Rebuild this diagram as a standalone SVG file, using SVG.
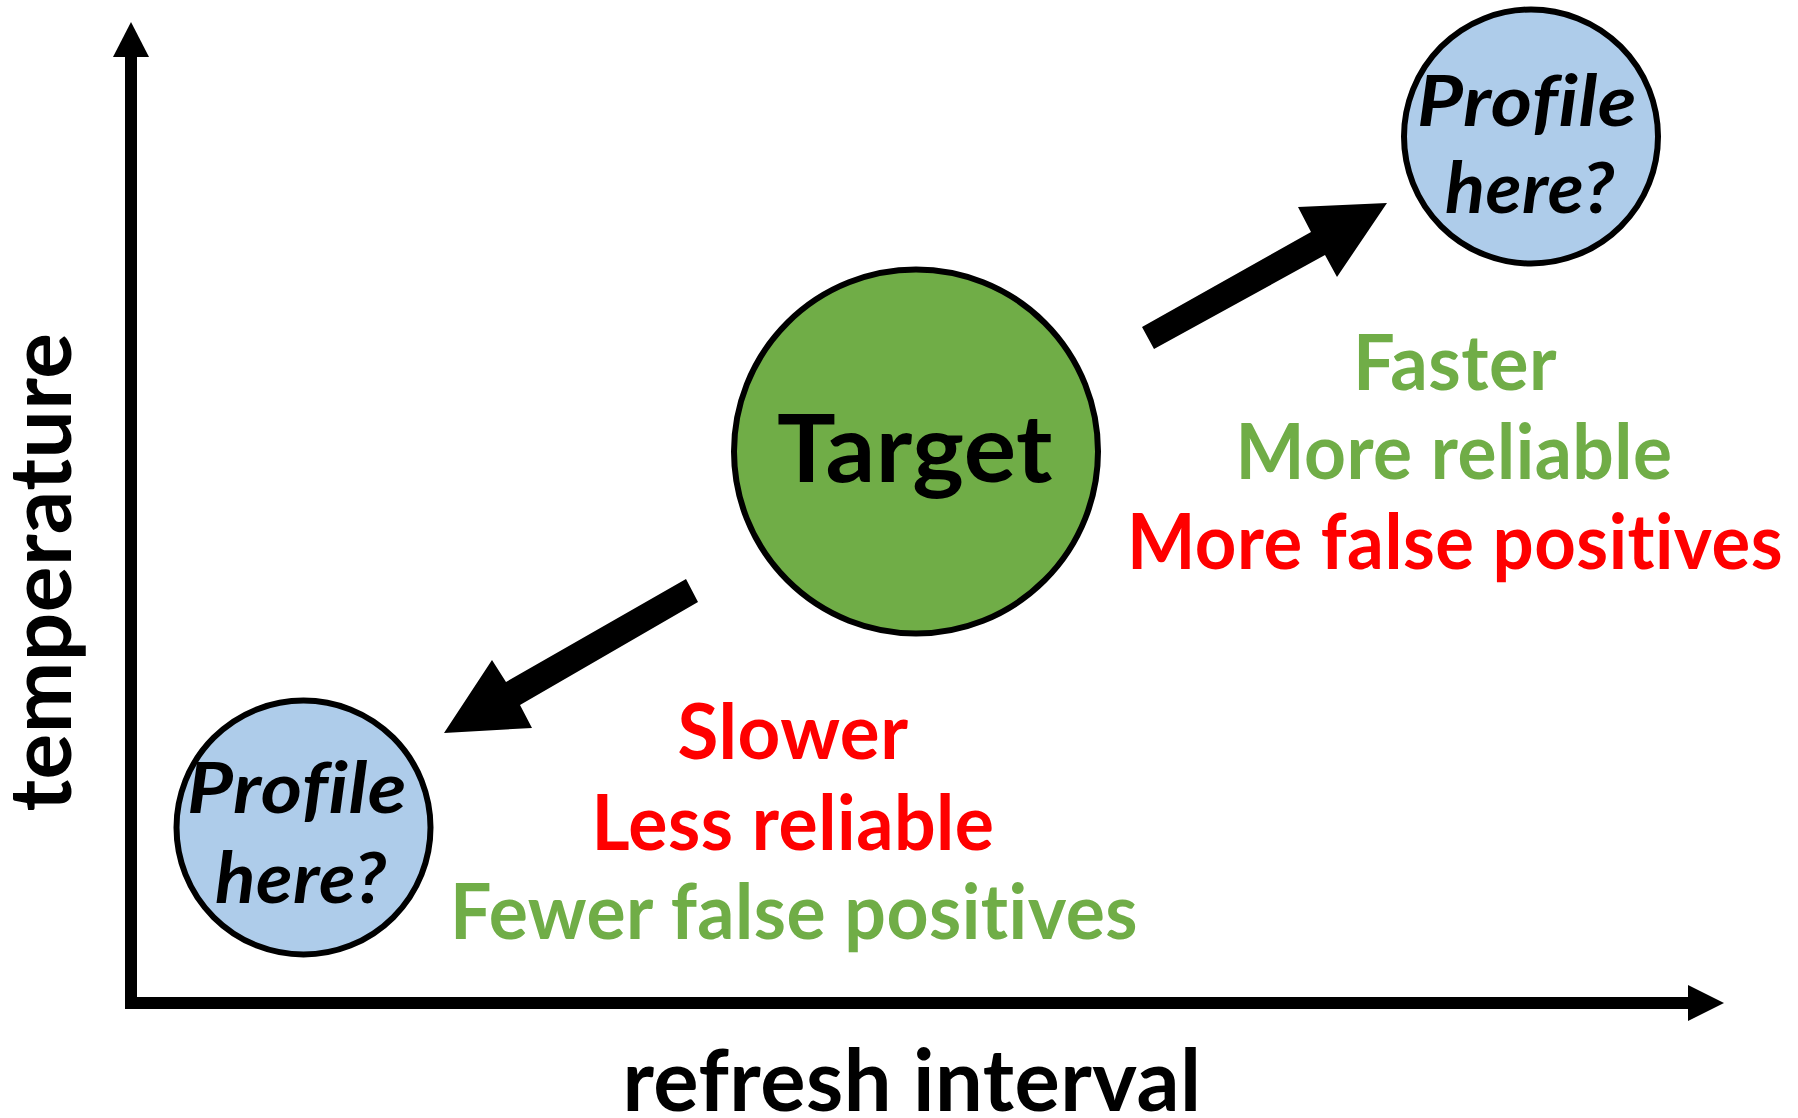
<svg xmlns="http://www.w3.org/2000/svg" width="1798" height="1118" viewBox="0 0 1798 1118">
  <style>
    .bg { fill: #ffffff; }
    .axis { fill: none; stroke: #000000; stroke-width: 12; stroke-linejoin: miter; stroke-linecap: butt; }
    .head { fill: #000000; }
    .arrow { fill: #000000; }
    .target { fill: #70AD47; stroke: #000000; stroke-width: 6; }
    .option { fill: #AECCEA; stroke: #000000; stroke-width: 6; }
    text { font-family: Lato, "Open Sans", "Liberation Sans", sans-serif; font-weight: bold; text-anchor: middle; font-variant-ligatures: none; font-feature-settings: "liga" 0, "clig" 0, "dlig" 0; letter-spacing: 0.5px; }
    .label { fill: #000000; }
    .ital { font-style: italic; fill: #000000; font-size: 71px; }
    .good { fill: #70AD47; font-size: 76px; }
    .bad { fill: #FF0000; font-size: 76px; }
  </style>
  <rect class="bg" x="0" y="0" width="1798" height="1118"/>

  <!-- axes and direction arrows -->
  <g id="connectors">
    <path class="axis" d="M131,57 V1003 H1688"/>
    <polygon class="head" points="131,22 113,57 149,57"/>
    <polygon class="head" points="1724,1003 1688,985 1688,1021"/>
    <polygon id="arrow-up" class="arrow" points="1142,327 1154,349 1325,255 1337,277 1387,203 1298,207 1311,232"/>
    <polygon id="arrow-down" class="arrow" points="686,579 698,602 520,705 532,728 444,733 492,660 506,682"/>
  </g>

  <!-- axis titles -->
  <g id="axis-y-label">
    <text class="label" font-size="86" textLength="479" lengthAdjust="spacingAndGlyphs" transform="translate(71,572) rotate(-90)">temperature</text>
  </g>
  <g id="axis-x-label">
    <text class="label" x="912" y="1111" font-size="86" textLength="579" lengthAdjust="spacingAndGlyphs">refresh interval</text>
  </g>

  <!-- centre node -->
  <g id="node-target">
    <circle class="target" cx="916" cy="451.5" r="182"/>
    <text class="label" x="915" y="482" font-size="93" textLength="276" lengthAdjust="spacingAndGlyphs">Target</text>
  </g>

  <!-- candidate points -->
  <g id="node-profile-high">
    <circle class="option" cx="1531" cy="136.5" r="127"/>
    <text class="ital" x="1527" y="126" textLength="220" lengthAdjust="spacingAndGlyphs">Profile</text>
    <text class="ital" x="1530" y="213" textLength="170" lengthAdjust="spacingAndGlyphs">here?</text>
  </g>
  <g id="node-profile-low">
    <circle class="option" cx="303.5" cy="827.5" r="127"/>
    <text class="ital" x="297" y="813" textLength="220" lengthAdjust="spacingAndGlyphs">Profile</text>
    <text class="ital" x="301" y="903" textLength="172" lengthAdjust="spacingAndGlyphs">here?</text>
  </g>

  <!-- trade-off notes -->
  <g id="notes-high">
    <text class="good" x="1455" y="390" textLength="204" lengthAdjust="spacingAndGlyphs">Faster</text>
    <text class="good" x="1454" y="479" textLength="437" lengthAdjust="spacingAndGlyphs">More reliable</text>
    <text class="bad" x="1455" y="569" textLength="656" lengthAdjust="spacingAndGlyphs">More false positives</text>
  </g>
  <g id="notes-low">
    <text class="bad" x="793" y="759" textLength="231" lengthAdjust="spacingAndGlyphs">Slower</text>
    <text class="bad" x="793" y="850" textLength="403" lengthAdjust="spacingAndGlyphs">Less reliable</text>
    <text class="good" x="794" y="939" textLength="688" lengthAdjust="spacingAndGlyphs">Fewer false positives</text>
  </g>
</svg>
